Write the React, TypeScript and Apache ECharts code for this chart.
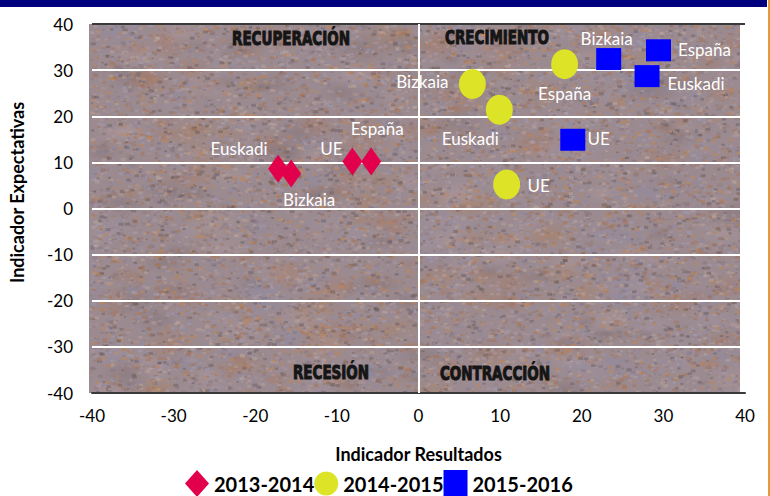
import React, { useEffect, useRef } from "react";
import * as echarts from "echarts";

// ---- data ----
const regions = ["Euskadi", "Bizkaia", "UE", "España"];
const series2013X = [-17.2, -15.6, -8.1, -5.8];
const series2013Y = [8.6, 7.6, 10.2, 10.2];
const series2014Names = ["Bizkaia", "Euskadi", "España", "UE"];
const series2014X = [6.6, 9.9, 17.9, 10.8];
const series2014Y = [27.0, 21.4, 31.3, 5.2];
const series2015Names = ["Bizkaia", "España", "Euskadi", "UE"];
const series2015X = [23.3, 29.4, 28.0, 18.9];
const series2015Y = [32.4, 34.3, 28.7, 14.9];
const seriesNames = ["2013-2014", "2014-2015", "2015-2016"];
const axisTicks = [-40, -30, -20, -10, 0, 10, 20, 30, 40];
const quadrantLabels = ["RECUPERACIÓN", "CRECIMIENTO", "RECESIÓN", "CONTRACCIÓN"];
const xTitle = "Indicador Resultados";
const yTitle = "Indicador Expectativas";

// label offsets (px) relative to the marker centre
const offsets2013 = [[-39, -20], [18, 26], [-21, -13], [6, -33]];
const offsets2014 = [[-50, -2], [-29, 29], [0, 29], [32, 1]];
const offsets2015 = [[-2, -21], [46, -1], [49, 7], [26, -1]];

const hash = (n: number) => {
  const s = Math.sin(n * 127.1 + 311.7) * 43758.5453;
  return s - Math.floor(s);
};

function makeTexture(w: number, h: number): string {
  const c = document.createElement("canvas");
  c.width = w;
  c.height = h;
  const ctx = c.getContext("2d");
  if (!ctx) return "";
  ctx.fillStyle = "#9b8b91";
  ctx.fillRect(0, 0, w, h);
  // large soft mottled patches (radial gradients)
  const patch = ["168,118,92", "142,138,166", "176,152,154", "128,112,116", "172,128,96", "160,146,160"];
  for (let i = 0; i < 380; i++) {
    const x = hash(i * 7 + 1) * w;
    const y = hash(i * 7 + 2) * h;
    const r = 8 + hash(i * 7 + 3) * 24;
    const col = patch[Math.floor(hash(i * 7 + 5) * patch.length)];
    ctx.save();
    ctx.translate(x, y);
    ctx.scale(1, 0.35 + hash(i * 7 + 4) * 0.3);
    const g = ctx.createRadialGradient(0, 0, 0, 0, 0, r);
    g.addColorStop(0, `rgba(${col},0.45)`);
    g.addColorStop(1, `rgba(${col},0)`);
    ctx.fillStyle = g;
    ctx.fillRect(-r, -r, r * 2, r * 2);
    ctx.restore();
  }
  // fine grain
  const grain = ["#b29a98", "#8e8aa4", "#a8704e", "#665858", "#bea89e", "#947a72", "#c4864e", "#a49eb4", "#82707a"];
  ctx.globalAlpha = 0.45;
  for (let i = 0; i < 14000; i++) {
    const x = hash(i * 5 + 11) * w;
    const y = hash(i * 5 + 12) * h;
    const s = 1 + hash(i * 5 + 13) * 2.2;
    ctx.fillStyle = grain[Math.floor(hash(i * 5 + 14) * grain.length)];
    ctx.fillRect(x, y, s * 1.6, s);
  }
  ctx.globalAlpha = 1;
  return c.toDataURL();
}

function buildData(names: string[], xs: number[], ys: number[], offs: number[][]) {
  return names.map((n, i) => ({
    name: n,
    value: [xs[i], ys[i]],
    label: { offset: offs[i] },
  }));
}

export default function App() {
  const ref = useRef<HTMLDivElement>(null);
  useEffect(() => {
    if (!ref.current) return;
    const chart = echarts.init(ref.current, null, { renderer: "svg" });
    const tex = makeTexture(651, 369);
    const labelFont = {
      show: true,
      position: "inside" as const,
      color: "#ffffff",
      fontFamily: "Lato",
      fontSize: 17,
      formatter: (p: any) => p.name,
    };
    const quadStyle = {
      fill: "#151515",
      stroke: "#151515",
      lineWidth: 0.8,
      fontFamily: "'Liberation Sans Narrow', 'DejaVu Sans Condensed', sans-serif",
      fontWeight: "bold" as const,
      fontSize: 15,
      align: "center" as const,
      verticalAlign: "middle" as const,
    };
    const quadPos = [[291, 38], [497, 37], [331, 372], [495, 373]];
    const splitColors = axisTicks.map((t, i) =>
      i === 0 || i === axisTicks.length - 1 ? "#3a3a3a" : "#ffffff"
    );
    chart.setOption({
      animation: false,
      backgroundColor: "#ffffff",
      grid: { left: 92, right: 25, top: 24, bottom: 103 },
      graphic: [
        { type: "rect", z: -20, silent: true, shape: { x: 0, y: 0, width: 767, height: 7 }, style: { fill: "#00007e" } },
        { type: "rect", z: -20, silent: true, shape: { x: 768, y: 0, width: 2, height: 496 }, style: { fill: "#e8983a" } },
        { type: "image", z: -10, silent: true, x: 89, y: 24, style: { image: tex, x: 0, y: 0, width: 651, height: 369 } },
        ...quadrantLabels.map((t, i) => ({
          type: "text",
          z: 50,
          silent: true,
          x: quadPos[i][0],
          y: quadPos[i][1],
          scaleY: 1.25,
          style: { ...quadStyle, text: t },
        })),
      ],
      legend: {
        left: 185,
        top: 470,
        itemWidth: 24,
        itemHeight: 27,
        itemGap: 0,
        padding: 0,
        data: seriesNames,
        textStyle: { fontFamily: "Lato", fontWeight: "bold", fontSize: 20, lineHeight: 22, color: "#000" },
      },
      xAxis: {
        type: "value",
        min: -40,
        max: 40,
        interval: 10,
        name: xTitle,
        nameLocation: "middle",
        nameGap: 52,
        nameTextStyle: { fontFamily: "Lato", fontWeight: "bold", fontSize: 18, color: "#000" },
        axisLine: { show: true, onZero: false, lineStyle: { color: "#3a3a3a", width: 2 } },
        axisTick: { show: false },
        splitLine: { show: false },
        axisLabel: { color: "#000", fontFamily: "Lato", fontSize: 17, margin: 14 },
      },
      yAxis: {
        type: "value",
        min: -40,
        max: 40,
        interval: 10,
        name: yTitle,
        nameLocation: "middle",
        nameRotate: 90,
        nameGap: 66,
        nameTextStyle: { fontFamily: "Lato", fontWeight: "bold", fontSize: 18, color: "#000", padding: [0, 0, 0, 32] },
        axisLine: { show: false },
        axisTick: { show: false },
        splitLine: { show: true, lineStyle: { color: splitColors, width: 2 } },
        axisLabel: { color: "#000", fontFamily: "Lato", fontSize: 17, margin: 19, padding: [0, 0, 10, 0] },
      },
      series: [
        {
          name: seriesNames[0],
          type: "scatter",
          symbol: "diamond",
          symbolSize: [20, 28],
          itemStyle: { color: "#e2004c", opacity: 1 },
          label: labelFont,
          z: 5,
          data: buildData(regions, series2013X, series2013Y, offsets2013),
          markLine: {
            silent: true,
            symbol: "none",
            label: { show: false },
            lineStyle: { color: "#ffffff", width: 2, type: "solid" },
            data: [{ xAxis: 0 }],
          },
        },
        {
          name: seriesNames[1],
          type: "scatter",
          symbol: "circle",
          symbolSize: [27, 30],
          itemStyle: { color: "#dde428", opacity: 1 },
          label: labelFont,
          z: 5,
          data: buildData(series2014Names, series2014X, series2014Y, offsets2014),
        },
        {
          name: seriesNames[2],
          type: "scatter",
          symbol: "rect",
          symbolSize: [25, 22],
          itemStyle: { color: "#0000ff", opacity: 1 },
          label: labelFont,
          z: 5,
          data: buildData(series2015Names, series2015X, series2015Y, offsets2015),
        },
      ],
    });
    return () => chart.dispose();
  }, []);
  return (
    <div
      ref={ref}
      style={{ position: "absolute", left: 0, top: 0, width: 770, height: 496 }}
    />
  );
}
